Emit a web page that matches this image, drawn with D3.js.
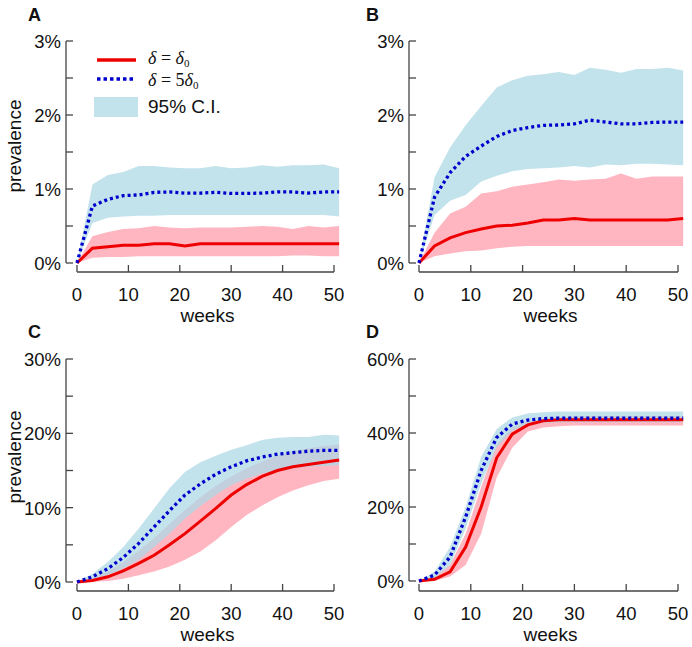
<!DOCTYPE html>
<html><head><meta charset="utf-8">
<script src="https://cdn.jsdelivr.net/npm/d3@7"></script>
<style>body{margin:0;background:#fff}svg{display:block}</style>
</head><body><svg id="c" width="692" height="647"></svg>
<script>
// ---- data (prevalence in %) ----
const weeks = [0,3,6,9,12,15,18,21,24,27,30,33,36,39,42,45,48,51];
const xTicks = [0,10,20,30,40,50];

// Panel A
const aRed    = [0,0.20,0.22,0.24,0.24,0.26,0.26,0.23,0.26,0.26,0.26,0.26,0.26,0.26,0.26,0.26,0.26,0.26];
const aRedLo  = [0,0.07,0.08,0.08,0.09,0.09,0.09,0.09,0.09,0.09,0.09,0.09,0.09,0.09,0.10,0.10,0.09,0.09];
const aRedHi  = [0,0.36,0.42,0.46,0.47,0.50,0.48,0.47,0.48,0.48,0.48,0.49,0.50,0.49,0.46,0.50,0.48,0.50];
const aBlue   = [0,0.77,0.86,0.91,0.92,0.955,0.96,0.945,0.945,0.955,0.94,0.94,0.945,0.96,0.96,0.945,0.96,0.96];
const aBlueLo = [0,0.54,0.61,0.63,0.64,0.64,0.65,0.65,0.65,0.65,0.65,0.65,0.65,0.65,0.65,0.65,0.65,0.63];
const aBlueHi = [0,1.06,1.19,1.23,1.31,1.31,1.29,1.28,1.28,1.31,1.28,1.29,1.32,1.30,1.32,1.32,1.33,1.28];
const aTicks  = [0,1,2,3];
const aMinor  = [0.5,1.5,2.5];

// Panel B
const bRed    = [0,0.23,0.34,0.41,0.46,0.50,0.51,0.54,0.58,0.58,0.60,0.58,0.58,0.58,0.58,0.58,0.58,0.60];
const bRedLo  = [0,0.09,0.13,0.16,0.17,0.20,0.22,0.23,0.23,0.23,0.23,0.23,0.23,0.23,0.23,0.23,0.23,0.23];
const bRedHi  = [0,0.41,0.67,0.76,0.94,0.97,1.03,1.06,1.09,1.13,1.11,1.13,1.14,1.21,1.14,1.17,1.17,1.17];
const bBlue   = [0,0.89,1.22,1.44,1.58,1.71,1.79,1.83,1.86,1.865,1.88,1.93,1.905,1.88,1.88,1.90,1.905,1.905];
const bBlueLo = [0,0.65,0.84,0.92,1.10,1.18,1.24,1.27,1.28,1.29,1.31,1.29,1.33,1.32,1.34,1.34,1.33,1.32];
const bBlueHi = [0,1.16,1.56,1.86,2.12,2.37,2.47,2.53,2.55,2.58,2.54,2.64,2.61,2.57,2.62,2.62,2.64,2.60];
const bTicks  = [0,1,2,3];
const bMinor  = [0.5,1.5,2.5];

// Panel C
const cRed    = [0,0.2,0.7,1.5,2.5,3.6,5.0,6.5,8.2,9.9,11.7,13.1,14.2,15.0,15.5,15.8,16.1,16.4];
const cRedLo  = [0,0.05,0.15,0.45,0.9,1.4,2.1,3.0,4.1,5.6,7.4,9.0,10.3,11.4,12.3,13.0,13.6,13.9];
const cRedHi  = [0,0.5,1.4,2.7,4.2,5.9,7.8,9.7,11.4,12.9,14.2,15.3,16.2,17.0,17.6,18.0,18.3,18.5];
const cBlue   = [0,0.7,1.8,3.3,5.2,7.4,9.6,11.7,13.2,14.5,15.5,16.3,16.8,17.2,17.4,17.6,17.7,17.7];
const cBlueLo = [0,0.2,0.9,1.8,3.0,4.7,6.5,8.5,10.2,11.7,13.0,13.9,14.6,15.0,15.3,15.5,15.6,15.7];
const cBlueHi = [0,1.1,2.7,4.7,7.2,9.9,12.6,14.8,16.1,17.0,17.8,18.4,19.1,19.4,19.5,19.5,19.8,19.7];
const cTicks  = [0,10,20,30];
const cMinor  = [5,15,25];

// Panel D
const dRed    = [0,0.45,2.5,9.2,20.0,33.3,39.7,42.2,43.3,43.6,43.6,43.6,43.6,43.6,43.6,43.6,43.6,43.6];
const dRedLo  = [0,0.0,1.2,4.3,12.8,28.0,36.0,40.4,41.5,41.8,42.0,42.0,42.0,42.0,42.0,42.0,42.0,42.0];
const dRedHi  = [0,1.2,4.3,12.8,25.4,36.9,41.5,43.2,43.8,44.2,44.5,44.6,44.6,44.6,44.6,44.6,44.6,44.6];
const dBlue   = [0,1.6,6.5,17.3,29.9,38.8,42.4,43.5,43.9,44.0,44.0,44.0,44.0,44.0,44.0,44.0,44.0,44.0];
const dBlueLo = [0,0.7,4.3,14.2,26.3,36.1,40.6,42.2,42.8,42.9,42.9,42.9,42.9,42.9,42.9,42.9,42.9,42.9];
const dBlueHi = [0,2.5,9.2,20.0,33.5,41.1,44.2,45.3,45.6,45.8,45.8,45.8,45.8,45.8,45.8,45.8,45.8,45.8];
const dTicks  = [0,20,40,60];
const dMinor  = [10,30,50];

// ---- layout ----
const panels = [
  {label:'A', lx:28, ly:21, axX:66, x0:77, x1:334, yTop:41, yBot:263, xAxY:272, ymax:3, ylabY:146,
   ticks:aTicks, minor:aMinor, red:aRed, redLo:aRedLo, redHi:aRedHi, blue:aBlue, blueLo:aBlueLo, blueHi:aBlueHi, ylab:true, legend:true},
  {label:'B', lx:366, ly:21, axX:409, x0:419, x1:678, yTop:41, yBot:263, xAxY:272, ymax:3,
   ticks:bTicks, minor:bMinor, red:bRed, redLo:bRedLo, redHi:bRedHi, blue:bBlue, blueLo:bBlueLo, blueHi:bBlueHi},
  {label:'C', lx:28, ly:338, axX:66, x0:77, x1:334, yTop:359, yBot:582, xAxY:591, ymax:30, ylabY:457,
   ticks:cTicks, minor:cMinor, red:cRed, redLo:cRedLo, redHi:cRedHi, blue:cBlue, blueLo:cBlueLo, blueHi:cBlueHi, ylab:true},
  {label:'D', lx:366, ly:338, axX:409, x0:419, x1:678, yTop:359, yBot:581, xAxY:591, ymax:60,
   ticks:dTicks, minor:dMinor, red:dRed, redLo:dRedLo, redHi:dRedHi, blue:dBlue, blueLo:dBlueLo, blueHi:dBlueHi}
];

const FONT = "'Liberation Sans', Arial, Helvetica, sans-serif";
const RED = '#ee0000', BLUE = '#0000cc', PINK = '#ffb6c1', LBLUE = '#add8e6';
const AX = '#444';
const svg = d3.select('#c');

panels.forEach(p => {
  const g = svg.append('g');
  const x = d3.scaleLinear().domain([0,50]).range([p.x0, p.x1]);
  const y = d3.scaleLinear().domain([0,p.ymax]).range([p.yBot, p.yTop]);
  const idx = d3.range(weeks.length);

  const area = (lo, hi) => d3.area().x(i => x(weeks[i])).y0(i => y(lo[i])).y1(i => y(hi[i]));
  const line = (v) => d3.line().x(i => x(weeks[i])).y(i => y(v[i]));

  g.append('path').attr('d', area(p.redLo, p.redHi)(idx)).attr('fill', PINK);
  g.append('path').attr('d', area(p.blueLo, p.blueHi)(idx)).attr('fill', LBLUE).attr('fill-opacity', 0.75);
  g.append('path').attr('d', line(p.red)(idx)).attr('fill','none').attr('stroke', RED).attr('stroke-width', 3);
  g.append('path').attr('d', line(p.blue)(idx)).attr('fill','none').attr('stroke', BLUE)
    .attr('stroke-width', 3.3).attr('stroke-dasharray', '3,3');

  // y axis (offset)
  g.append('line').attr('x1', p.axX).attr('x2', p.axX).attr('y1', y(0)).attr('y2', y(p.ymax))
    .attr('stroke', AX).attr('stroke-width', 1.3);
  p.ticks.concat(p.minor).forEach(t => {
    g.append('line').attr('x1', p.axX).attr('x2', p.axX + 7).attr('y1', y(t)).attr('y2', y(t))
      .attr('stroke', AX).attr('stroke-width', 1.3);
  });
  p.ticks.forEach(t => {
    g.append('text').attr('x', p.axX - 5).attr('y', y(t)).attr('dy', '0.38em')
      .attr('text-anchor', 'end').attr('font-family', FONT).attr('font-size', 18.5).attr('fill', '#111')
      .text(t + '%');
  });

  // x axis (offset)
  g.append('line').attr('x1', x(0)).attr('x2', x(50)).attr('y1', p.xAxY).attr('y2', p.xAxY)
    .attr('stroke', AX).attr('stroke-width', 1.3);
  xTicks.forEach(t => {
    g.append('line').attr('x1', x(t)).attr('x2', x(t)).attr('y1', p.xAxY).attr('y2', p.xAxY - 7)
      .attr('stroke', AX).attr('stroke-width', 1.3);
    g.append('text').attr('x', x(t)).attr('y', p.xAxY + 29).attr('text-anchor', 'middle')
      .attr('font-family', FONT).attr('font-size', 18.5).attr('fill', '#111').text(t);
  });
  g.append('text').attr('x', (x(0) + x(50)) / 2 + 2).attr('y', p.xAxY + 50).attr('text-anchor', 'middle')
    .attr('font-family', FONT).attr('font-size', 19).attr('fill', '#111').text('weeks');

  if (p.ylab) {
    g.append('text').attr('transform', `translate(21,${p.ylabY}) rotate(-90)`).attr('text-anchor', 'middle')
      .attr('font-family', FONT).attr('font-size', 19).attr('fill', '#111').text('prevalence');
  }

  g.append('text').attr('x', p.lx).attr('y', p.ly).attr('font-family', FONT).attr('font-weight', 'bold')
    .attr('font-size', 18).attr('fill', '#111').text(p.label);

  if (p.legend) {
    const L = g.append('g');
    L.append('line').attr('x1', 97).attr('x2', 136).attr('y1', 60).attr('y2', 60).attr('stroke', RED).attr('stroke-width', 3.3);
    L.append('line').attr('x1', 97).attr('x2', 136).attr('y1', 79).attr('y2', 79).attr('stroke', BLUE)
      .attr('stroke-width', 3.5).attr('stroke-dasharray', '3.5,3');
    L.append('rect').attr('x', 94).attr('y', 97).attr('width', 44).attr('height', 20).attr('fill', LBLUE).attr('fill-opacity', 0.75);
    const serif = "'Liberation Serif', 'Times New Roman', serif";
    const eq = (yy, coef) => {
      const t = L.append('text').attr('x', 148).attr('y', yy).attr('font-family', serif).attr('font-size', 18).attr('fill', '#111');
      t.append('tspan').attr('font-style', 'italic').text('δ');
      t.append('tspan').text(' = ' + coef);
      t.append('tspan').attr('font-style', 'italic').text('δ');
      t.append('tspan').attr('font-size', 11).attr('dy', 3).text('0');
    };
    eq(64, '');
    eq(86, '5');
    L.append('text').attr('x', 148).attr('y', 113).attr('font-family', FONT).attr('font-size', 19)
      .attr('fill', '#111').text('95% C.I.');
  }
});
</script>
</body></html>
